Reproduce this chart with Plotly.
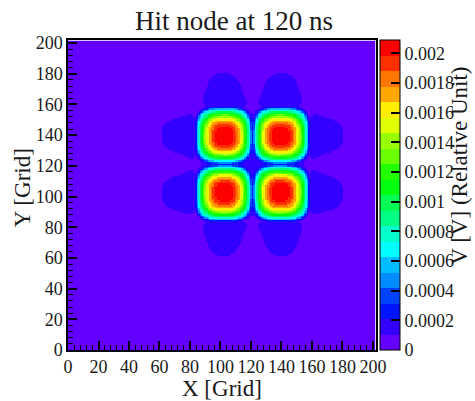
import colorsys
import numpy as np
import plotly.graph_objects as go

# ---------------- data ----------------
title_text = "Hit node at 120 ns"
x_title = "X [Grid]"
y_title = "Y [Grid]"
z_title = "V [V] (Relative Unit)"

x_nodes = np.arange(0, 202)          # grid node index along X
y_nodes = np.arange(0, 202)          # grid node index along Y
peak_x = [102, 140]                  # hit node columns
peak_y = [102, 140]                  # hit node rows
peak_max = 0.00209                   # maximum voltage in the map
core_width = 16.5                    # core scale (grid units)
core_power = 3
core_cutoff = 17.8                   # rounded-square edge of the core
tail_level = 0.08                    # relative level of the cross-shaped tail
tail_start = 19.0
tail_width = 50
tail_power = 4

z_max = 0.00209
n_levels = 20
axis_ticks = [0, 20, 40, 60, 80, 100, 120, 140, 160, 180, 200]
cbar_tickvals = [0, 0.0002, 0.0004, 0.0006, 0.0008, 0.001, 0.0012, 0.0014, 0.0016, 0.0018, 0.002]
cbar_ticktext = ["0", "0.0002", "0.0004", "0.0006", "0.0008", "0.001",
                 "0.0012", "0.0014", "0.0016", "0.0018", "0.002"]


def g(d):
    return np.exp(-(np.abs(d) / core_width) ** core_power)


def t(d):
    d = np.abs(d)
    return np.exp(-(d / tail_width) ** tail_power) / (1 + np.exp(-(d - tail_start) / 0.8))


def node_field(dx, dy):
    r4 = (np.abs(dx) ** 4 + np.abs(dy) ** 4) ** 0.25
    core = g(dx) * g(dy) / (1 + np.exp((r4 - core_cutoff) / 0.6))
    tail = t(dx) * g(dy) + g(dx) * t(dy)
    return (1 - tail_level) * core + tail_level * tail


X, Y = np.meshgrid(x_nodes, y_nodes)
field = np.zeros_like(X, dtype=float)
for px in peak_x:
    for py in peak_y:
        field += node_field(X - px, Y - py)
field = field / field.max() * peak_max

# ROOT "pretty" palette (50 HLS colours) sampled at 20 contour levels
def root_color(i):
    idx = int((i + 0.99) * 50 / n_levels)
    hue = 280 - (idx + 1) * (280 / 50)
    r, gg, b = colorsys.hls_to_rgb(max(hue, 0) / 360.0, 0.5, 1.0)
    return "rgb(%d,%d,%d)" % (round(r * 255), round(gg * 255), round(b * 255))

colorscale = []
for i in range(n_levels):
    c = root_color(i)
    colorscale.append([i / n_levels, c])
    colorscale.append([(i + 1) / n_levels, c])

FONT = "Liberation Serif, Times New Roman, serif"
TXT = "#1a1a1a"

fig = go.Figure(go.Heatmap(
    x=x_nodes, y=y_nodes, z=field,
    zmin=0, zmax=z_max, zsmooth=False,
    colorscale=colorscale,
    colorbar=dict(
        x=1.01, xanchor="left", y=0.5, yanchor="middle",
        len=1.0, lenmode="fraction", thickness=20, thicknessmode="pixels",
        outlinewidth=1, outlinecolor="black",
        tickvals=cbar_tickvals, ticktext=cbar_ticktext,
        ticks="inside", ticklen=9, tickwidth=2, tickcolor="black",
        tickfont=dict(family=FONT, size=18, color=TXT),
        xpad=0, ypad=0,
    ),
))

axis_common = dict(
    range=[0, 202], tickvals=axis_ticks, ticks="inside", ticklen=9,
    tickwidth=1.5, tickcolor="black", tickangle=0,
    minor=dict(ticks="inside", dtick=4, ticklen=5, tickcolor="black", tickwidth=1),
    showline=True, linecolor="black", linewidth=1.5, mirror=True,
    showgrid=False, zeroline=False,
    tickfont=dict(family=FONT, size=18, color=TXT),
)

fig.update_layout(
    width=475, height=401,
    margin=dict(l=68, r=98, t=40, b=51),
    paper_bgcolor="white", plot_bgcolor="white",
    xaxis=dict(**axis_common),
    yaxis=dict(**axis_common),
    title=dict(text=title_text, x=234 / 475, xanchor="center",
               y=1 - 21 / 401, yanchor="middle",
               font=dict(family=FONT, size=27, color=TXT)),
    annotations=[
        dict(text=x_title, xref="paper", yref="paper",
             x=(222 - 68) / 309, y=-(388 - 350) / 310, xanchor="center", yanchor="middle",
             showarrow=False, font=dict(family=FONT, size=23, color=TXT)),
        dict(text=y_title, xref="paper", yref="paper",
             x=-(68 - 22) / 309, y=(350 - 188) / 310, xanchor="center", yanchor="middle",
             textangle=-90, showarrow=False, font=dict(family=FONT, size=23, color=TXT)),
        dict(text=z_title, xref="paper", yref="paper",
             x=(460 - 68) / 309, y=(350 - 166) / 310, xanchor="center", yanchor="middle",
             textangle=-90, showarrow=False, font=dict(family=FONT, size=23, color=TXT)),
    ],
)

fig.write_html("out.html", config={"displayModeBar": False},
               post_script="document.body.style.margin='0';")
